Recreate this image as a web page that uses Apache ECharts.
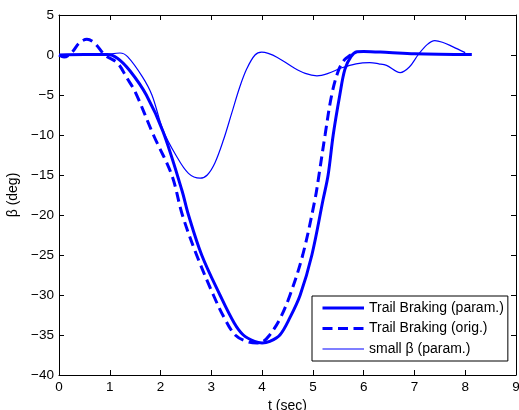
<!DOCTYPE html>
<html>
<head>
<meta charset="utf-8">
<script src="https://cdn.jsdelivr.net/npm/echarts@6/dist/echarts.min.js"></script>
<style>html,body{margin:0;padding:0;background:#fff;overflow:hidden}#c{width:519px;height:410px}</style>
</head>
<body>
<div id="c"></div>
<script>
// Trail Braking (param.) — thick solid
const tParam = [0, 0.5, 0.95, 1.15, 1.4, 1.72, 2.05, 2.42, 2.55, 2.81, 3.17, 3.45, 3.63, 3.85, 4.0, 4.15, 4.35, 4.55, 4.75, 4.98, 5.2, 5.3, 5.4, 5.53, 5.63, 5.75, 5.87, 6.0, 6.5, 7.0, 8.13];
const bParam = [0, 0.05, 0.05, -0.4, -2.0, -5, -9.6, -16.9, -20, -25, -30, -33.5, -35, -35.8, -36, -35.8, -35, -32.8, -30, -25, -18.1, -15, -10, -5, -1.8, -0.2, 0.4, 0.45, 0.3, 0.15, 0.05];
// Trail Braking (orig.) — dashed
const tOrig = [0, 0.1, 0.25, 0.4, 0.55, 0.7, 0.9, 1.15, 1.34, 1.5, 1.86, 2.22, 2.43, 2.71, 3.04, 3.25, 3.47, 3.7, 3.9, 4.0, 4.15, 4.35, 4.55, 4.8, 5.04, 5.12, 5.24, 5.37, 5.5, 5.62, 5.72, 5.85];
const bOrig = [0, -0.25, 0.3, 1.5, 1.96, 1.5, 0, -1, -2.9, -4.6, -10, -15, -20, -25, -30, -32.8, -35, -35.8, -36, -35.9, -35, -33, -30, -25, -18.1, -15, -10, -5, -2, -0.6, -0.1, 0.35];
// small beta (param.) — thin
const tSmall = [0, 0.5, 0.9, 1.2, 1.35, 1.64, 1.83, 2.05, 2.3, 2.55, 2.78, 2.92, 3.07, 3.24, 3.40, 3.56, 3.70, 3.86, 3.99, 4.12, 4.3, 4.6, 4.85, 5.08, 5.3, 5.57, 5.85, 6.12, 6.3, 6.45, 6.72, 6.9, 7.07, 7.25, 7.4, 7.55, 7.75, 8.0];
const bSmall = [0, 0, 0.05, 0.25, -0.2, -2.7, -5, -9.4, -12.5, -14.8, -15.4, -15.0, -13.5, -10.6, -7.3, -4.0, -1.7, 0, 0.35, 0.2, -0.3, -1.5, -2.3, -2.6, -2.3, -1.6, -1.1, -0.95, -1.1, -1.3, -2.2, -1.5, 0, 1.3, 1.8, 1.6, 1.05, 0.3];

const names = ['Trail Braking (param.)', 'Trail Braking (orig.)', 'small \u03b2 (param.)'];
const xTicks = [0, 9, 1];
const yTicks = [-40, 5, 5];

const pairs = (t, b) => t.map((v, i) => [v, b[i]]);
const FONT = 'Liberation Sans, Arial, sans-serif';
const minus = v => String(v).replace('-', '\u2212');
const blue = '#0000ff';
const DASH = [10, 5.5];

const chart = echarts.init(document.getElementById('c'), null, {renderer: 'canvas'});
const axisCommon = {
  type: 'value',
  axisLine: {show: true, onZero: false, lineStyle: {color: '#000', width: 1}},
  axisTick: {show: true, inside: true, length: 5, lineStyle: {color: '#000'}},
  splitLine: {show: false},
};
chart.setOption({
  animation: false,
  backgroundColor: '#fff',
  grid: {left: 59, right: 3, top: 15, bottom: 35, containLabel: false, outerBoundsMode: 'none'},
  xAxis: [
    Object.assign({}, axisCommon, {
      min: xTicks[0], max: xTicks[1], interval: xTicks[2], position: 'bottom',
      name: 't (sec)', nameLocation: 'middle', nameGap: 17,
      nameTextStyle: {fontFamily: FONT, fontSize: 14, color: '#000'},
      axisLabel: {fontFamily: FONT, fontSize: 13.5, color: '#000', margin: 5}
    }),
    Object.assign({}, axisCommon, {
      min: xTicks[0], max: xTicks[1], interval: xTicks[2], position: 'top',
      axisLabel: {show: false}
    })
  ],
  yAxis: [
    Object.assign({}, axisCommon, {
      min: yTicks[0], max: yTicks[1], interval: yTicks[2], position: 'left',
      name: '\u03b2 (deg)', nameLocation: 'middle', nameGap: 30, nameRotate: 90,
      nameTextStyle: {fontFamily: FONT, fontSize: 14, color: '#000'},
      axisLabel: {fontFamily: FONT, fontSize: 13.5, color: '#000', margin: 5, formatter: minus}
    }),
    Object.assign({}, axisCommon, {
      min: yTicks[0], max: yTicks[1], interval: yTicks[2], position: 'right',
      axisLabel: {show: false}
    })
  ],
  legend: {
    orient: 'vertical', left: 312, top: 296,
    padding: [5, 4, 5, 9], itemGap: 6.5, itemWidth: 41.5, itemHeight: 14,
    backgroundColor: '#fff', borderColor: '#000', borderWidth: 1, borderRadius: 0,
    textStyle: {fontFamily: FONT, fontSize: 14, color: '#000'},
    itemStyle: {opacity: 0, color: 'rgba(0,0,0,0)', borderWidth: 0},
    data: [
      {name: names[0], itemStyle: {opacity: 0}, lineStyle: {color: blue, width: 3, type: 'solid'}},
      {name: names[1], itemStyle: {opacity: 0}, lineStyle: {color: blue, width: 3, type: DASH}},
      {name: names[2], itemStyle: {opacity: 0}, lineStyle: {color: blue, width: 1.2, type: 'solid'}}
    ]
  },
  series: [
    {name: names[0], type: 'line', data: pairs(tParam, bParam), smooth: 0.35, symbol: 'none', z: 3,
     lineStyle: {color: blue, width: 3}, itemStyle: {color: blue}},
    {name: names[1], type: 'line', data: pairs(tOrig, bOrig), smooth: 0.35, symbol: 'none', z: 2,
     lineStyle: {color: blue, width: 3, type: DASH}, itemStyle: {color: blue}},
    {name: names[2], type: 'line', data: pairs(tSmall, bSmall), smooth: 0.35, symbol: 'none', z: 4,
     lineStyle: {color: blue, width: 1.2}, itemStyle: {color: blue}}
  ]
});
</script>
</body>
</html>
